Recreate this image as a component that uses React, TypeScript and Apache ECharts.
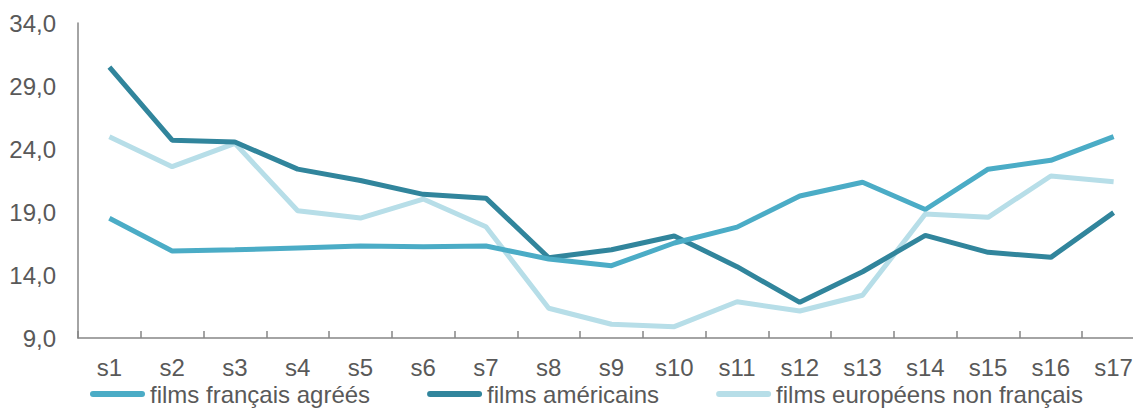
import React, { useEffect, useRef } from "react";
import * as echarts from "echarts";

const categories = ["s1","s2","s3","s4","s5","s6","s7","s8","s9","s10","s11","s12","s13","s14","s15","s16","s17"];
const seriesNames = ["films français agréés", "films américains", "films européens non français"];
const francais = [18.5, 15.9, 16.0, 16.15, 16.3, 16.25, 16.3, 15.27, 14.74, 16.54, 17.8, 20.27, 21.36, 19.2, 22.4, 23.1, 24.98];
const americains = [30.5, 24.7, 24.55, 22.4, 21.5, 20.4, 20.1, 15.37, 16.0, 17.1, 14.66, 11.83, 14.26, 17.15, 15.8, 15.4, 18.95];
const europeens = [24.98, 22.6, 24.45, 19.1, 18.52, 20.03, 17.83, 11.36, 10.09, 9.9, 11.88, 11.14, 12.39, 18.84, 18.58, 21.86, 21.4];
const colors = ["#4BACC6", "#31859C", "#B7DEE8"];

const FONT = "Liberation Sans, Arial, sans-serif";
const capsule = "path://M3,0 L52,0 A3,3 0 0 1 52,6 L3,6 A3,3 0 0 1 3,0 Z";

export default function App() {
  const ref = useRef<HTMLDivElement>(null);
  useEffect(() => {
    const chart = echarts.init(ref.current!, null, { renderer: "svg" });
    const data = [francais, americains, europeens];
    chart.setOption({
      animation: false,
      grid: { left: 78, top: 23, bottom: 70, right: 0 },
      xAxis: {
        type: "category",
        data: categories,
        boundaryGap: true,
        axisLine: { lineStyle: { color: "#868686", width: 1.5 } },
        axisTick: { show: true, inside: true, length: 7, lineStyle: { color: "#868686", width: 1.5 } },
        axisLabel: { color: "#595959", fontSize: 24, fontFamily: FONT, margin: 17 },
        splitLine: { show: false },
      },
      yAxis: {
        type: "value",
        min: 9,
        max: 34,
        interval: 5,
        axisLine: { show: true, lineStyle: { color: "#868686", width: 1.5 } },
        axisTick: { show: false },
        splitLine: { show: false },
        axisLabel: {
          color: "#595959",
          fontSize: 24,
          fontFamily: FONT,
          margin: 22,
          formatter: (v: number) => v.toFixed(1).replace(".", ","),
        },
      },
      legend: {
        left: 90,
        top: 382,
        padding: 0,
        itemWidth: 55,
        itemHeight: 6,
        itemGap: 57,
        icon: capsule,
        textStyle: { color: "#595959", fontSize: 24, fontFamily: FONT },
        data: seriesNames,
      },
      series: seriesNames.map((name, i) => ({
        name,
        type: "line",
        data: data[i],
        symbol: "none",
        itemStyle: { color: colors[i] },
        lineStyle: { color: colors[i], width: 5 },
        z: 3 - i,
      })),
    });
    return () => chart.dispose();
  }, []);
  return (
    <div style={{ position: "absolute", left: 0, top: 0, width: 1133, height: 408, overflow: "hidden", background: "#fff" }}>
      <div ref={ref} style={{ width: 1145, height: 408 }} />
    </div>
  );
}
